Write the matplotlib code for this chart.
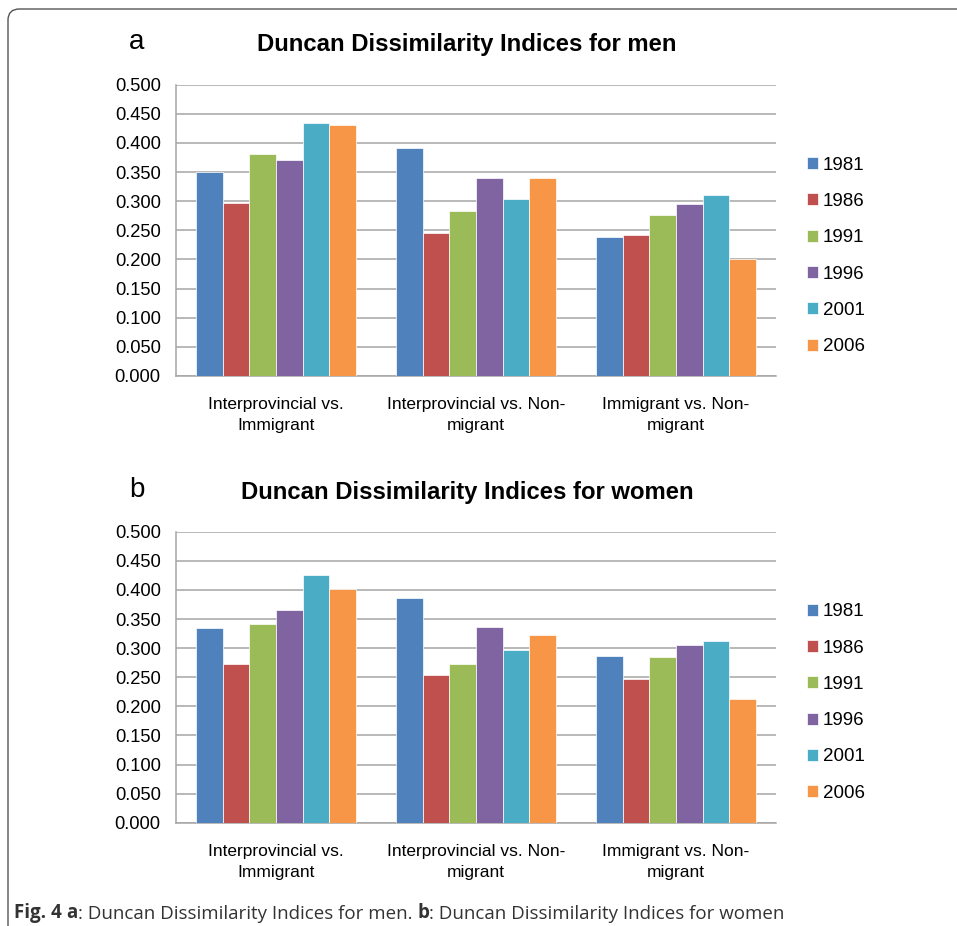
import matplotlib
matplotlib.use('Agg')
import matplotlib.pyplot as plt
import numpy as np
from matplotlib.patches import FancyBboxPatch

# data
categories = ['Interprovincial vs.\nImmigrant',
              'Interprovincial vs. Non-\nmigrant',
              'Immigrant vs. Non-\nmigrant']
years = ['1981', '1986', '1991', '1996', '2001', '2006']

men = [
    [0.351, 0.391, 0.239],   # 1981
    [0.297, 0.246, 0.242],   # 1986
    [0.381, 0.283, 0.277],   # 1991
    [0.370, 0.340, 0.295],   # 1996
    [0.434, 0.304, 0.310],   # 2001
    [0.431, 0.340, 0.201],   # 2006
]
women = [
    [0.335, 0.386, 0.287],
    [0.272, 0.254, 0.247],
    [0.341, 0.272, 0.285],
    [0.365, 0.336, 0.306],
    [0.425, 0.297, 0.313],
    [0.401, 0.322, 0.212],
]
yticks = [0.0, 0.05, 0.10, 0.15, 0.20, 0.25, 0.30, 0.35, 0.40, 0.45, 0.50]

colors = ['#4F81BD', '#C0504D', '#9BBB59', '#8064A2', '#4BACC6', '#F79646']
grid_col = '#A6A6A6'

plt.rcParams['font.family'] = ['Liberation Sans', 'DejaVu Sans']

W, H = 957, 926
fig = plt.figure(figsize=(W / 100, H / 100), dpi=100)

# outer rounded frame (runs off the right and bottom edges)
frame = FancyBboxPatch((8 / W, -0.05), 1.1, 1 - 9 / H + 0.05,
                       boxstyle='round,pad=0,rounding_size=0.012',
                       transform=fig.transFigure, facecolor='none',
                       edgecolor='#555555', linewidth=1.0)
fig.add_artist(frame)


def draw_panel(rect, data, title, letter, title_y, legend_y):
    ax = fig.add_axes(rect)
    x = np.arange(len(categories))
    bw = 0.8 / len(years)
    for i, yr in enumerate(years):
        ax.bar(x - 0.4 + bw * (i + 0.5), data[i], width=bw, color=colors[i],
               edgecolor='white', linewidth=0.5, label=yr, zorder=3)
    ax.set_xlim(-0.5, len(categories) - 0.5)
    ax.set_ylim(0, 0.5)
    ax.set_yticks(yticks)
    ax.set_yticklabels(['%.3f' % v for v in yticks])
    ax.set_xticks(x)
    ax.set_xticklabels(categories, linespacing=1.55)
    ax.yaxis.grid(True, color=grid_col, linewidth=1.1, zorder=0)
    ax.set_axisbelow(True)
    for s in ['top', 'right']:
        ax.spines[s].set_visible(False)
    for s in ['left', 'bottom']:
        ax.spines[s].set_color(grid_col)
        ax.spines[s].set_linewidth(1.1)
    ax.tick_params(axis='y', length=0, pad=11, labelsize=13.2)
    ax.tick_params(axis='x', length=0, pad=15, labelsize=12.5)
    ax.legend(loc='center left', bbox_to_anchor=(807 / W, 1 - legend_y / H),
              bbox_transform=fig.transFigure, frameon=False, fontsize=13.5,
              handlelength=0.6, handleheight=0.6, handletextpad=0.25,
              labelspacing=1.03, borderpad=0, borderaxespad=0)
    fig.text(467 / W, 1 - title_y / H, title, ha='center', va='center',
             fontsize=17.2, fontweight='bold')
    fig.text(137 / W, 1 - (title_y - 3) / H, letter, ha='center', va='center',
             fontsize=20)
    return ax


draw_panel([176 / W, 1 - 376 / H, 600 / W, 291.3 / H], men,
           'Duncan Dissimilarity Indices for men', 'a', 45, 256)
draw_panel([176 / W, 1 - 822.7 / H, 600 / W, 291 / H], women,
           'Duncan Dissimilarity Indices for women', 'b', 493, 702.5)

# caption with bold parts, chained text pieces
cap = fig.add_axes([0, 0, 1, 1], facecolor='none')
cap.set_axis_off()
pieces = [('Fig. 4 ', 'bold'), ('a', 'bold'),
          (': Duncan Dissimilarity Indices for men. ', 'normal'),
          ('b', 'bold'), (': Duncan Dissimilarity Indices for women', 'normal')]
prev = None
for txt, wt in pieces:
    kw = dict(fontsize=13.5, fontweight=wt, color='#333333',
              family=['Open Sans', 'DejaVu Sans'], va='bottom', ha='left')
    if prev is None:
        prev = cap.text(14 / W, 1 - 923 / H, txt, transform=cap.transAxes, **kw)
    else:
        prev = cap.annotate(txt, xy=(1, 0), xycoords=prev, **kw)

fig.savefig('out.png', dpi=100)
